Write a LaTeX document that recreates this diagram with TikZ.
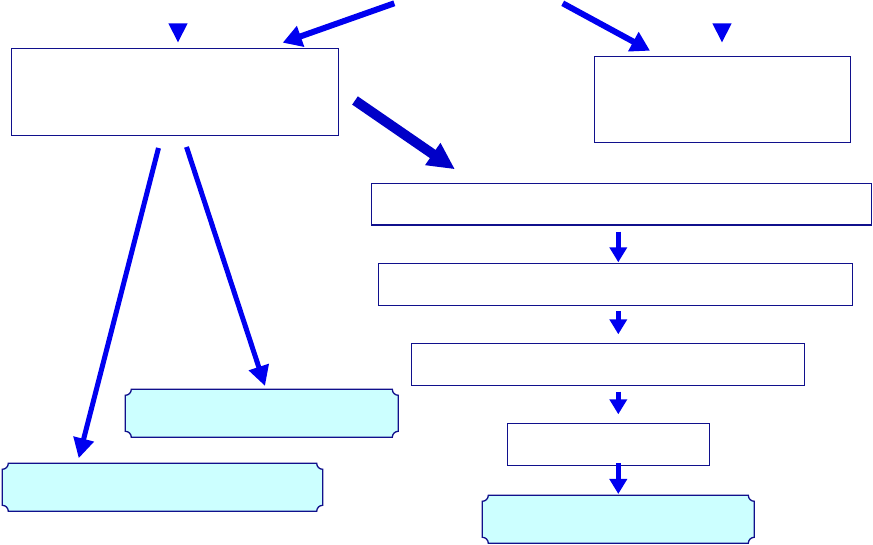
\documentclass[tikz,border=0pt]{standalone}
\usetikzlibrary{arrows.meta,calc}
\definecolor{arrblue}{RGB}{0,0,240}
\definecolor{darkarr}{RGB}{0,0,200}
\definecolor{navy}{RGB}{16,16,140}
\definecolor{lightcyan}{RGB}{204,255,255}
\tikzset{
  box/.style={draw=navy, line width=1.3pt, fill=white, inner sep=0pt, outer sep=0pt},
  plaquebox/.style={inner sep=0pt, outer sep=0pt},
  plaqueline/.style={draw=navy, line width=1.3pt, fill=lightcyan},
  varrow/.style={draw=arrblue, line width=4.5pt, -{Triangle[width=17pt,length=15pt]}},
  darrow/.style={draw=arrblue, line width=6pt, -{Triangle[width=21pt,length=19pt]}},
  larrow/.style={draw=arrblue, line width=5pt, -{Triangle[width=20pt,length=20pt]}},
  tarrow/.style={draw=darkarr, line width=10pt, -{Triangle[width=25pt,length=27pt]}},
  marker/.style={fill=arrblue}
}
\newcommand{\plaqueshape}[1]{%
  \path[plaqueline] ($(#1.north west)+(6pt,0)$) -- ($(#1.north east)+(-6pt,0)$)
    arc[start angle=180,end angle=270,radius=6pt]
    -- ($(#1.south east)+(0,6pt)$)
    arc[start angle=90,end angle=180,radius=6pt]
    -- ($(#1.south west)+(6pt,0)$)
    arc[start angle=0,end angle=90,radius=6pt]
    -- ($(#1.north west)+(0,-6pt)$)
    arc[start angle=270,end angle=360,radius=6pt]
    -- cycle;}
\begin{document}
\begin{tikzpicture}[x=1pt,y=1pt]
\useasboundingbox (0,0) rectangle (873,545);
% rectangular boxes
\node[box, minimum width=327pt, minimum height=87pt] (A) at (175,453.2) {};
\node[box, minimum width=256pt, minimum height=86.4pt] (B) at (722.3,445.5) {};
\node[box, minimum width=500pt, minimum height=41.7pt] (C) at (621.7,340.8) {};
\node[box, minimum width=474.4pt, minimum height=42pt] (D) at (615.5,260.7) {};
\node[box, minimum width=393.4pt, minimum height=42pt] (E) at (608,180.7) {};
\node[box, minimum width=202.4pt, minimum height=42pt] (F) at (608.5,100.7) {};
% plaque boxes
\node[plaquebox, minimum width=272pt, minimum height=48pt] (G) at (618.3,25.7) {};
\node[plaquebox, minimum width=273pt, minimum height=48pt] (H) at (261.8,131.7) {};
\node[plaquebox, minimum width=320.4pt, minimum height=48pt] (I) at (162.5,57.7) {};
\plaqueshape{G}
\plaqueshape{H}
\plaqueshape{I}
% small markers
\fill[marker] (168.3,521.7) -- (187.7,521.7) -- (178,502.7) -- cycle;
\fill[marker] (712.3,521.7) -- (731.7,521.7) -- (722,502.7) -- cycle;
% arrow end points
\coordinate (p1) at (394.3,541.7);
\coordinate (p2) at (282.7,502.3);
\coordinate (q1) at (562.7,541.7);
\coordinate (q2) at (650,494.3);
\coordinate (r1) at (355,444.5);
\coordinate (r2) at (455,375.7);
\coordinate (s1) at (158.5,397);
\coordinate (s2) at (78.7,86.7);
\coordinate (t1) at (186.5,398);
\coordinate (t2) at (265,159);
\coordinate (v1a) at (618.3,313.3);
\coordinate (v1b) at (618.3,282.7);
\coordinate (v2a) at (618.3,234);
\coordinate (v2b) at (618.3,210.7);
\coordinate (v3a) at (618.3,153.3);
\coordinate (v3b) at (618.3,130.7);
\coordinate (v4a) at (618.3,81.7);
\coordinate (v4b) at (618.3,51);
% arrows
\draw[darrow] (p1) -- (p2);
\draw[darrow] (q1) -- (q2);
\draw[tarrow] (r1) -- (r2);
\draw[larrow] (s1) -- (s2);
\draw[larrow] (t1) -- (t2);
\draw[varrow] (v1a) -- (v1b);
\draw[varrow] (v2a) -- (v2b);
\draw[varrow] (v3a) -- (v3b);
\draw[varrow] (v4a) -- (v4b);
\end{tikzpicture}
\end{document}
